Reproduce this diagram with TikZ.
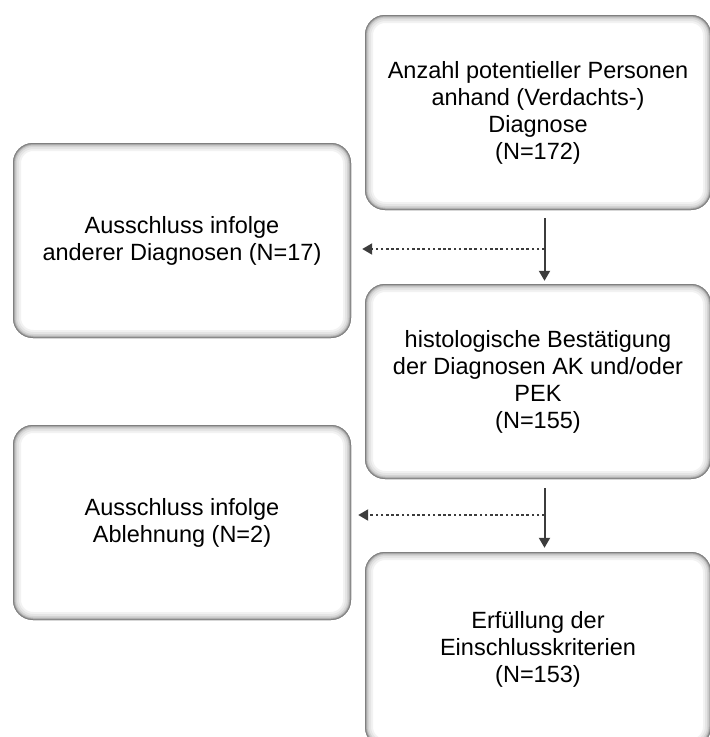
\documentclass[tikz,border=0pt]{standalone}
\usepackage{fontspec}
\setmainfont{Liberation Sans}
\usetikzlibrary{arrows.meta}
\tikzset{
  glowbox/.style={rectangle, rounded corners=20pt, fill=white, minimum height=195pt,
    inner sep=0pt, align=center, font=\fontsize{23.5}{27}\selectfont,
    path picture={
      \foreach \w/\c in {16/5,12/10,8/17,5/26,3/38,1.5/50}{
        \draw[black!\c, line width=\w pt, rounded corners=20pt]
          (path picture bounding box.north west) rectangle (path picture bounding box.south east);
      }
    }},
  leftbox/.style={glowbox, minimum width=338pt},
  rightbox/.style={glowbox, minimum width=346pt},
  solidarrow/.style={draw=arrowgray, line width=2pt, -{Triangle[length=10pt,width=11pt]}},
  dotarrow/.style={draw=arrowgray, line width=2pt, dash pattern=on 2.6pt off 2.6pt, -{Triangle[length=10pt,width=11pt]}}
}
\definecolor{arrowgray}{HTML}{3C3C3C}
\begin{document}
\begin{tikzpicture}[x=1pt,y=-1pt]
\useasboundingbox (0,0) rectangle (710,737);
\clip (0,0) rectangle (710,737);
\node[rightbox] (b1) at (538,112.5) {Anzahl potentieller Personen\\anhand (Verdachts-)\\Diagnose\\(N=172)};
\node[leftbox] (b2) at (182,240.5) {Ausschluss infolge\\anderer Diagnosen (N=17)};
\node[rightbox] (b3) at (538,381.5) {histologische Bestätigung\\der Diagnosen AK und/oder\\PEK\\(N=155)};
\node[leftbox] (b4) at (182,522.5) {Ausschluss infolge\\Ablehnung (N=2)};
\node[rightbox] (b5) at (538,649.5) {Erfüllung der\\Einschlusskriterien\\(N=153)};
\coordinate (t1) at (544.5,218);
\coordinate (j1) at (544.5,249);
\coordinate (t2) at (544.5,488);
\coordinate (j2) at (544.5,515);
\draw[dotarrow, shorten >=11pt] (j1) -- (j1 -| b2.east);
\draw[solidarrow, shorten >=3pt] (t1) -- (t1 |- b3.north);
\draw[dotarrow, shorten >=7pt] (j2) -- (j2 -| b4.east);
\draw[solidarrow, shorten >=4pt] (t2) -- (t2 |- b5.north);
\end{tikzpicture}
\end{document}
